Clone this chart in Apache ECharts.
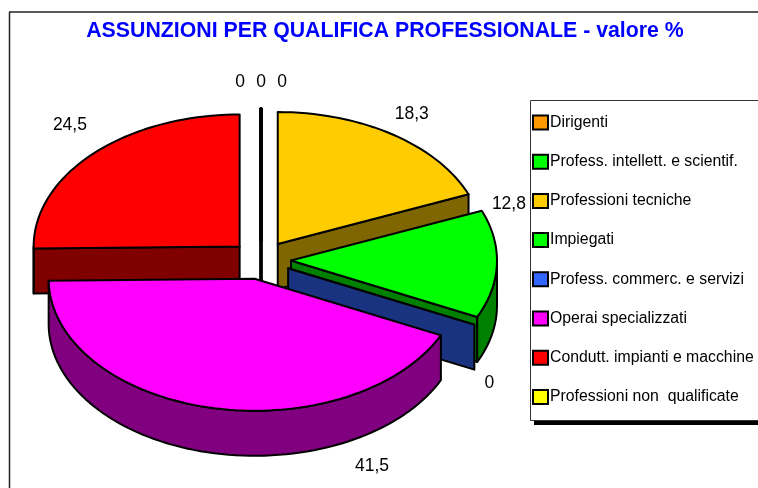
<!DOCTYPE html>
<html><head><meta charset="utf-8">
<style>html,body{margin:0;padding:0;background:#fff}#c{width:758px;height:488px}</style>
<script src="https://cdn.jsdelivr.net/npm/echarts@6/dist/echarts.min.js"></script>
</head><body><div id="c"></div>
<script>
const titleText = 'ASSUNZIONI PER QUALIFICA PROFESSIONALE - valore %';
const categories = ['Dirigenti','Profess. intellett. e scientif.','Professioni tecniche','Impiegati','Profess. commerc. e servizi','Operai specializzati','Condutt. impianti e macchine','Professioni non  qualificate'];
const values = [0,0,18.3,12.8,0,41.5,24.5,0];
const colors = ['#ff9900','#00ff00','#ffcc00','#00ff00','#3366ff','#ff00ff','#ff0000','#ffff00'];
const sideColors = ['#804d00','#008000','#806600','#008000','#1a3380','#800080','#800000','#808000'];
// label displacement from the slice's rim point at its mid angle
const labelOffsets = [[0,-27],[21,-27],[19,-20],[12,-60],[15,59],[161,58],[-23,-29],[-21,-27]];

const PIE = {cx:261, cy:260, rx:206, ry:132, depth:45, explode:30};
const total = values.reduce((a,b)=>a+b,0);
let acc = 0;
const spans = values.map(v=>{const s=acc/total*360; acc+=v; return [s,acc/total*360];});
const midOf = s => (s[0]+s[1])/2;
const rad = d => d*Math.PI/180;
const order = spans.map((s,i)=>[-Math.cos(rad(midOf(s))),i]).sort((a,b)=>a[0]-b[0]).map(a=>a[1]);

function renderSlice(params, api){
  const i = params.seriesIndex, a = api.value(0), b = api.value(1), v = api.value(2);
  const mid = (a+b)/2, P = PIE;
  const ox = P.cx + P.explode*Math.sin(rad(mid));
  const oy = P.cy - P.explode*(P.ry/P.rx)*Math.cos(rad(mid));
  const rim = t => [ox+P.rx*Math.sin(rad(t)), oy-P.ry*Math.cos(rad(t))];
  const down = p => [p[0],p[1]+P.depth];
  const arc = (s,e)=>{const n=Math.max(1,Math.ceil((e-s)/2)),r=[];for(let k=0;k<=n;k++)r.push(rim(s+(e-s)*k/n));return r;};
  const zero = a===b;
  const lw = zero && (a===0||a===360) ? 3 : 2;
  const poly = (pts,fill)=>({type:'polygon',shape:{points:pts},style:{fill,stroke:'#000',lineWidth:lw,lineJoin:'round'}});
  const kids = [];
  const apex=[ox,oy], side=sideColors[i];
  const face = t => poly([apex,rim(t),down(rim(t)),down(apex)],side);
  if(a>180 && a<360) kids.push(face(a));
  if((b>0 && b<180) || zero) kids.push(face(b));
  const fs=Math.max(a,90), fe=Math.min(b,270);
  if(fe>fs){const top=arc(fs,fe); kids.push(poly(top.concat(top.map(down).reverse()),side));}
  kids.push(poly([apex].concat(arc(a,b)),colors[i]));
  const anchor = rim(mid), off = labelOffsets[i];
  kids.push({type:'text',style:{x:anchor[0]+off[0],y:anchor[1]+off[1],text:String(v).replace('.',','),
    fill:'#000',font:'17.5px "Liberation Sans"',align:'center',verticalAlign:'middle'}});
  return {type:'group',children:kids};
}

const chart = echarts.init(document.getElementById('c'),null,{renderer:'canvas'});
chart.setOption({
  animation:false,
  backgroundColor:'#fff',
  title:{text:titleText,left:380,top:16,textAlign:'center',
    textStyle:{color:'#0000ff',fontFamily:'Liberation Sans',fontWeight:'bold',fontSize:21.3}},
  legend:{orient:'vertical',left:532,top:114.5,itemWidth:15,itemHeight:14,itemGap:23.2,icon:'rect',selectedMode:false,
    padding:0,z:30,data:categories,
    itemStyle:{borderColor:'#000',borderWidth:2},
    textStyle:{color:'#000',fontFamily:'Liberation Sans',fontSize:15.8,padding:[0,0,0,-3]}},
  graphic:{elements:[
    {type:'line',z:0,shape:{x1:9.5,y1:12,x2:9.5,y2:488},style:{stroke:'#222',lineWidth:1.5}},
    {type:'line',z:0,shape:{x1:9,y1:12,x2:758,y2:12},style:{stroke:'#222',lineWidth:1.5}},
    {type:'rect',z:0,shape:{x:534,y:104,width:240,height:321},style:{fill:'#000'}},
    {type:'rect',z:1,shape:{x:530.5,y:100.5,width:240,height:320},style:{fill:'#fff',stroke:'#333',lineWidth:1}}
  ]},
  series:categories.map((name,i)=>({
    type:'custom',name,coordinateSystem:'none',z:2+order.indexOf(i),
    itemStyle:{color:colors[i],borderColor:'#000',borderWidth:2},
    renderItem:renderSlice,silent:true,
    data:[[spans[i][0],spans[i][1],values[i]]]
  }))
});
</script></body></html>
